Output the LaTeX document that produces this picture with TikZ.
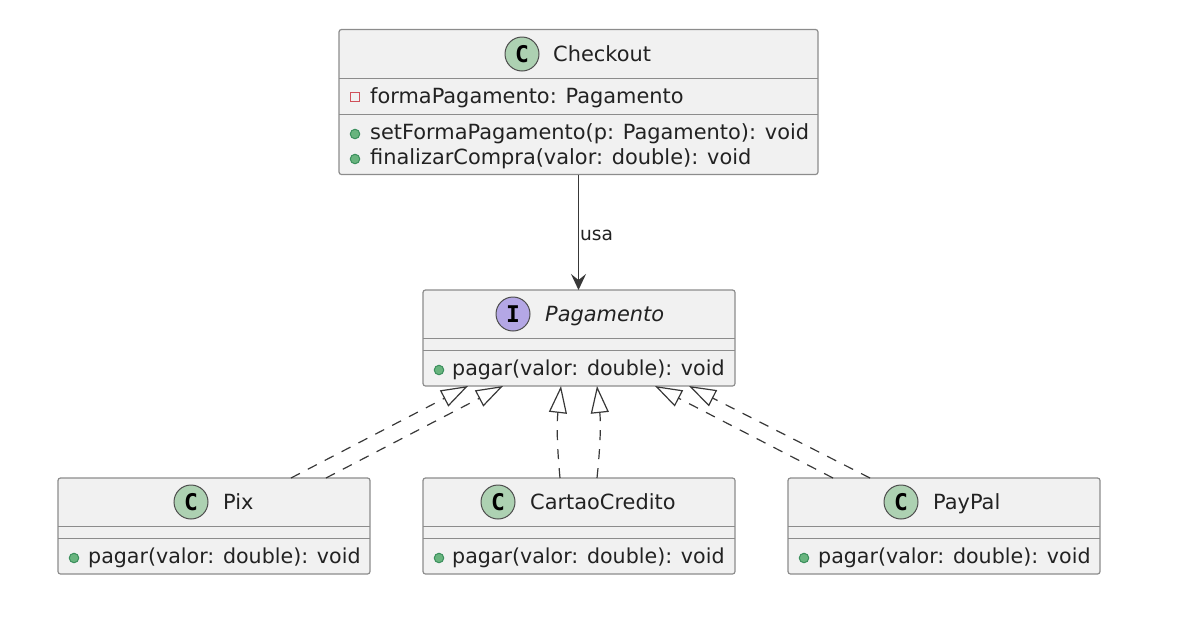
\documentclass[tikz,border=0pt]{standalone}
\usepackage{fontspec}
\setmainfont{DejaVu Sans}
\newfontfamily\spotfont{DejaVu Sans Mono}
\usetikzlibrary{arrows.meta}
\definecolor{boxFill}{HTML}{F1F1F1}
\definecolor{boxLine}{HTML}{8C8C8C}
\definecolor{textDark}{HTML}{222222}
\definecolor{spotClass}{HTML}{ADD1B2}
\definecolor{spotIface}{HTML}{B4A7E5}
\definecolor{dotFill}{HTML}{68B47E}
\definecolor{dotLine}{HTML}{3A8F5C}
\definecolor{privLine}{HTML}{D0505A}
\begin{document}
\begin{tikzpicture}[x=1pt, y=-1pt,
rectClass/.style={rectangle, draw=boxLine, fill=boxFill, line width=1.2pt, rounded corners=2.5pt, outer sep=0pt, inner sep=0pt, minimum width=312pt, minimum height=96pt},
rectName/.style={inner sep=0pt, text=textDark, font=\fontsize{20.9}{24}\selectfont, anchor=base west},
rectMember/.style={inner sep=0pt, text=textDark, font=\fontsize{20.6}{24}\selectfont, anchor=base west},
rectMemberWide/.style={rectMember, font=\fontsize{20.9}{24}\selectfont},
spotC/.style={circle, draw=textDark!80, fill=spotClass, line width=1pt, minimum size=34pt, inner sep=0pt, text=black, font=\spotfont\bfseries\fontsize{23}{24}\selectfont},
spotI/.style={spotC, fill=spotIface},
dotPublic/.style={circle, draw=dotLine, fill=dotFill, line width=1pt, minimum size=9.5pt, inner sep=0pt},
boxPrivate/.style={rectangle, draw=privLine, line width=1.1pt, minimum size=9.5pt, inner sep=0pt},
sepLine/.style={draw=boxLine, line width=1pt},
useArrow/.style={color=textDark!90, line width=1.3pt, -{Stealth[length=16pt, width=15pt, inset=6pt]}},
implArrow/.style={color=textDark!90, line width=1.2pt, dash pattern=on 10pt off 9pt, -{Triangle[open, fill=white, length=27pt, width=18pt]}}
]

\useasboundingbox (0, 0) rectangle (1197, 638);

% checkout
\node[rectClass, minimum width=479pt, minimum height=145pt] (checkout) at (578.5, 102) {};
\node[spotC] (spotCheckout) at (522, 54) {C};
\node[rectName] (nameCheckout) at (553, 61) {Checkout};
\draw[sepLine] (checkout.west |- 0, 78) -- (checkout.east |- 0, 78);
\draw[sepLine] (checkout.west |- 0, 114) -- (checkout.east |- 0, 114);
\node[boxPrivate] (markForma) at (355, 97) {};
\node[rectMemberWide] (forma) at (370, 103) {formaPagamento: Pagamento};
\node[dotPublic] (markSet) at (355, 134) {};
\node[rectMemberWide] (setForma) at (370, 139) {setFormaPagamento(p: Pagamento): void};
\node[dotPublic] (markFinal) at (355, 159) {};
\node[rectMemberWide] (finalizar) at (370, 164) {finalizarCompra(valor: double): void};

% interface
\node[rectClass] (pagamento) at (579, 338) {};
\node[spotI] (spotPagamento) at (513, 314) {I};
\node[rectName, font=\fontsize{20.9}{24}\selectfont\itshape] (namePagamento) at (545, 321) {Pagamento};
\draw[sepLine] (pagamento.west |- 0, 338) -- (pagamento.east |- 0, 338);
\draw[sepLine] (pagamento.west |- 0, 350) -- (pagamento.east |- 0, 350);
\node[dotPublic] (markPagar) at (439, 370) {};
\node[rectMember] (pagar) at (452, 375) {pagar(valor: double): void};

% pix
\node[rectClass] (pix) at (214, 526) {};
\node[spotC] (spotPix) at (191, 502) {C};
\node[rectName] (namePix) at (223, 509) {Pix};
\draw[sepLine] (pix.west |- 0, 526) -- (pix.east |- 0, 526);
\draw[sepLine] (pix.west |- 0, 538) -- (pix.east |- 0, 538);
\node[dotPublic] (markPix) at (74, 558) {};
\node[rectMember] (pagarPix) at (88, 563) {pagar(valor: double): void};

% cartao
\node[rectClass] (cartao) at (579, 526) {};
\node[spotC] (spotCartao) at (498, 502) {C};
\node[rectName] (nameCartao) at (530, 509) {CartaoCredito};
\draw[sepLine] (cartao.west |- 0, 526) -- (cartao.east |- 0, 526);
\draw[sepLine] (cartao.west |- 0, 538) -- (cartao.east |- 0, 538);
\node[dotPublic] (markCartao) at (439, 558) {};
\node[rectMember] (pagarCartao) at (452, 563) {pagar(valor: double): void};

% paypal
\node[rectClass] (paypal) at (944, 526) {};
\node[spotC] (spotPaypal) at (901, 502) {C};
\node[rectName] (namePaypal) at (933, 509) {PayPal};
\draw[sepLine] (paypal.west |- 0, 526) -- (paypal.east |- 0, 526);
\draw[sepLine] (paypal.west |- 0, 538) -- (paypal.east |- 0, 538);
\node[dotPublic] (markPaypal) at (804, 558) {};
\node[rectMember] (pagarPaypal) at (818, 563) {pagar(valor: double): void};

\path[useArrow] (checkout.south) edge node[right, yshift=-3pt, inner sep=1pt, text=textDark, font=\fontsize{18.6}{20}\selectfont] (labelUsa) {usa} (checkout.south |- pagamento.north);

\path[implArrow] 	([xshift=77pt]pix.north) 		edge 	([xshift=-111pt]pagamento.south)
			([xshift=112pt]pix.north) 		edge 	([xshift=-76pt]pagamento.south)
			([xshift=-19pt]cartao.north) 	edge[bend left=6] 	([xshift=-18pt]pagamento.south)
			([xshift=18pt]cartao.north) 	edge[bend right=6] 	([xshift=18pt]pagamento.south)
			([xshift=-111pt]paypal.north) 	edge 	([xshift=76pt]pagamento.south)
			([xshift=-74pt]paypal.north) 	edge 	([xshift=110pt]pagamento.south);

\end{tikzpicture}
\end{document}
